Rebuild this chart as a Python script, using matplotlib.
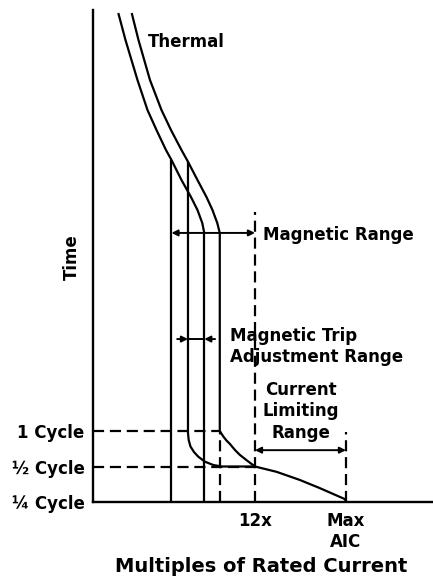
import matplotlib
matplotlib.use("Agg")
import matplotlib.pyplot as plt

# ---- data (schematic units: x = multiples of rated current, y = time steps) ----
thermal_low_x = [1.874, 2.407, 3.296, 4.037, 4.704, 5.407, 5.815, 6.556, 7.259, 7.741, 8.096, 8.244]
thermal_low_y = [13.775, 13.014, 11.887, 11.042, 10.479, 9.915, 9.634, 9.070, 8.592, 8.225, 7.859, 7.577]
thermal_high_x = [2.867, 3.370, 4.222, 5.074, 5.778, 6.556, 7.037, 7.741, 8.407, 8.852, 9.207, 9.393]
thermal_high_y = [13.775, 13.014, 11.887, 11.042, 10.479, 9.915, 9.586, 9.070, 8.592, 8.225, 7.859, 7.577]

mag_low_settings = [5.815, 8.244]      # vertical drops from the low thermal curve
mag_low_tops = [9.634, 7.577]
mag_high_x = [7.037, 7.037, 7.089, 7.222, 7.481, 7.800, 8.296, 8.911, 9.556, 12.0]
mag_high_y = [9.586, 1.944, 1.746, 1.563, 1.408, 1.276, 1.135, 1.042, 1.0, 1.0]
mag_max_x = [9.393, 9.393, 9.630, 9.889, 10.148, 10.519, 10.889, 11.407, 12.0]
mag_max_y = [7.577, 2.0, 1.859, 1.732, 1.634, 1.465, 1.324, 1.169, 1.0]
limit_x = [12.0, 13.6, 15.33, 16.81, 18.67, 18.74]
limit_y = [1.0, 0.85, 0.62, 0.39, 0.08, 0.0]

cycle_vals = [0.0, 1.0, 2.0]
cycle_labels = ["¼ Cycle", "½ Cycle", "1 Cycle"]
x_marks = [12.0, 18.74]
x_labels = ["12x", "Max\nAIC"]
mag_range = [5.815, 12.0, 7.58]
trip_adj = [7.037, 8.244, 4.59]
limit_range = [12.0, 18.74, 1.46]
dash_12x_top = 8.17
dash_aic_top = 1.97

plt.rcParams['font.family'] = ['DejaVu Sans']
plt.rcParams['font.weight'] = 'bold'

fig = plt.figure(figsize=(4.33, 5.81), dpi=100)
ax = fig.add_axes([93/433, 79/581, 340/433, 492/581])
ax.set_xlim(0, 25.19)
ax.set_ylim(0, 13.86)
for s in ['top', 'right']:
    ax.spines[s].set_visible(False)
for s in ['left', 'bottom']:
    ax.spines[s].set_linewidth(1.7)
    ax.spines[s].set_color('black')

lw = 1.6
dash = (0, (5, 2.6))
kw = dict(color='black', lw=lw, solid_capstyle='butt', solid_joinstyle='round')

ax.plot(thermal_low_x, thermal_low_y, **kw)
ax.plot(thermal_high_x, thermal_high_y, **kw)
for xs, top in zip(mag_low_settings, mag_low_tops):
    ax.plot([xs, xs], [0, top], **kw)
ax.plot(mag_high_x, mag_high_y, **kw)
ax.plot(mag_max_x, mag_max_y, **kw)
ax.plot(limit_x, limit_y, **kw)

# dashed references
ax.plot([0, mag_max_x[0]], [cycle_vals[2]] * 2, color='black', lw=lw, ls=dash)
ax.plot([0, 12.0], [cycle_vals[1]] * 2, color='black', lw=lw, ls=dash)
ax.plot([mag_max_x[0]] * 2, [0, cycle_vals[2]], color='black', lw=lw, ls=dash)
ax.plot([x_marks[0]] * 2, [0, dash_12x_top], color='black', lw=lw, ls=dash)
ax.plot([x_marks[1]] * 2, [0, dash_aic_top], color='black', lw=lw, ls=dash)

# dimension arrows
aprops = dict(arrowstyle='<|-|>', color='black', lw=1.4, mutation_scale=9,
              shrinkA=0, shrinkB=0)
ax.annotate('', xy=(mag_range[0], mag_range[2]), xytext=(mag_range[1], mag_range[2]),
            arrowprops=aprops)
ax.annotate('', xy=(limit_range[0], limit_range[2]), xytext=(limit_range[1], limit_range[2]),
            arrowprops=aprops)
inprops = dict(arrowstyle='-|>', color='black', lw=1.4, mutation_scale=9,
               shrinkA=0, shrinkB=0)
ax.annotate('', xy=(trip_adj[0], trip_adj[2]), xytext=(trip_adj[0] - 0.8, trip_adj[2]),
            arrowprops=inprops)
ax.annotate('', xy=(trip_adj[1], trip_adj[2]), xytext=(trip_adj[1] + 0.8, trip_adj[2]),
            arrowprops=inprops)
ax.plot([trip_adj[0], trip_adj[1]], [trip_adj[2]] * 2, color='black', lw=1.4)

# text
fs = 12
ax.text(4.07, 12.96, "Thermal", fontsize=fs, fontweight='bold', va='center', ha='left')
ax.text(12.59, 7.52, "Magnetic Range", fontsize=fs, fontweight='bold', va='center', ha='left')
ax.text(10.15, 4.37, "Magnetic Trip\nAdjustment Range", fontsize=fs, fontweight='bold',
        va='center', ha='left', linespacing=1.2)
ax.text(15.41, 2.56, "Current\nLimiting\nRange", fontsize=fs, fontweight='bold',
        va='center', ha='center', linespacing=1.25)

ax.set_yticks(cycle_vals)
ax.set_yticklabels(cycle_labels, fontsize=fs, fontweight='bold')
ax.set_xticks(x_marks)
ax.set_xticklabels(x_labels, fontsize=fs, fontweight='bold', linespacing=1.25)
ax.tick_params(axis='y', length=0, pad=6)
ax.tick_params(axis='x', length=0, pad=7)

fig.text(261.5/433, 1 - 567/581, "Multiples of Rated Current", fontsize=14,
         fontweight='bold', ha='center', va='center')
fig.text(72/433, 1 - 257/581, "Time", fontsize=fs, fontweight='bold', rotation=90,
         ha='center', va='center')

fig.savefig("out.png", dpi=100)
